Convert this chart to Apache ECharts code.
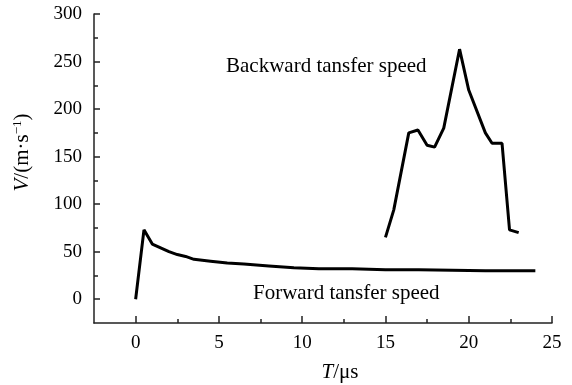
<!DOCTYPE html>
<html>
<head>
<meta charset="utf-8">
<script src="https://cdn.jsdelivr.net/npm/echarts@6/dist/echarts.min.js"></script>
<style>
html,body{margin:0;padding:0;background:#fff;}
#chart{width:572px;height:385px;}
</style>
</head>
<body>
<div id="chart"></div>
<script>
// forward transfer speed
var forwardT = [0, 0.5, 1.0, 1.5, 2.0, 2.5, 3.0, 3.5, 4.5, 5.5, 6.5, 8, 9.5, 11, 13, 15, 17, 19, 21, 24];
var forwardV = [0, 73, 58, 54, 50, 47, 45, 42, 40, 38, 37, 35, 33, 32, 32, 31, 31, 30.5, 30, 30];
// backward transfer speed
var backwardT = [15.0, 15.5, 16.4, 16.95, 17.5, 17.95, 18.5, 19.45, 20.0, 21.0, 21.4, 22.0, 22.45, 23.0];
var backwardV = [65, 94, 175, 178, 162, 160, 180, 263, 220, 175, 164, 164, 73, 70];

var xLabels = [0, 5, 10, 15, 20, 25];
var xMinor = [2.5, 7.5, 12.5, 17.5, 22.5];
var yLabels = [0, 50, 100, 150, 200, 250, 300];
var yMinor = [25, 75, 125, 175, 225, 275];

function pairs(xs, ys) {
    return xs.map(function (x, i) { return [x, ys[i]]; });
}

var font = 'Liberation Serif';
var axisColor = '#222';

var chart = echarts.init(document.getElementById('chart'));
var option = {
    backgroundColor: '#fff',
    animation: false,
    grid: {left: 94, right: 20, top: 14, bottom: 62, containLabel: false, outerBoundsMode: 'none'},
    xAxis: [
        {
            type: 'value', min: -2.5, max: 25,
            name: '{i|T}/μs',
            nameLocation: 'middle', nameGap: 39,
            nameTextStyle: {
                fontFamily: font, fontSize: 21, color: '#000', padding: [0, 0, 0, 34],
                rich: {i: {fontFamily: font, fontSize: 21, fontStyle: 'italic', color: '#000'}}
            },
            axisLine: {onZero: false, lineStyle: {color: axisColor, width: 1.5}},
            axisTick: {inside: true, length: 7, customValues: xLabels, lineStyle: {color: axisColor, width: 1.5}},
            axisLabel: {customValues: xLabels, fontFamily: font, fontSize: 19, color: '#000', margin: 11},
            splitLine: {show: false}
        },
        {
            type: 'value', min: -2.5, max: 25, position: 'bottom',
            axisLine: {show: false, onZero: false},
            axisTick: {inside: true, length: 4, customValues: xMinor, lineStyle: {color: axisColor, width: 1.5}},
            axisLabel: {show: false},
            splitLine: {show: false}
        }
    ],
    yAxis: [
        {
            type: 'value', min: -25, max: 300,
            name: '{i|V}/(m·s{sup|−1})',
            nameLocation: 'middle', nameGap: 61, nameRotate: 90,
            nameTextStyle: {
                fontFamily: font, fontSize: 21, color: '#000', padding: [0, 0, 0, 32],
                rich: {
                    i: {fontFamily: font, fontSize: 21, fontStyle: 'italic', color: '#000'},
                    sup: {fontFamily: font, fontSize: 13, color: '#000', verticalAlign: 'top', padding: [0, 0, 9, 0]}
                }
            },
            axisLine: {show: true, onZero: false, lineStyle: {color: axisColor, width: 1.5}},
            axisTick: {show: true, inside: true, length: 6, customValues: yLabels, lineStyle: {color: axisColor, width: 1.5}},
            axisLabel: {customValues: yLabels, fontFamily: font, fontSize: 19, color: '#000', margin: 12},
            splitLine: {show: false}
        },
        {
            type: 'value', min: -25, max: 300, position: 'left',
            axisLine: {show: false, onZero: false},
            axisTick: {show: true, inside: true, length: 4, customValues: yMinor, lineStyle: {color: axisColor, width: 1.5}},
            axisLabel: {show: false},
            splitLine: {show: false}
        }
    ],
    series: [
        {
            name: 'Forward tansfer speed', type: 'line',
            data: pairs(forwardT, forwardV),
            symbol: 'none',
            lineStyle: {color: '#000', width: 3}
        },
        {
            name: 'Backward tansfer speed', type: 'line',
            data: pairs(backwardT, backwardV),
            symbol: 'none',
            lineStyle: {color: '#000', width: 3}
        }
    ],
    graphic: [
        {type: 'text', left: 226, top: 56, style: {text: 'Backward tansfer speed', fontFamily: font, fontSize: 21, fill: '#000'}},
        {type: 'text', left: 253, top: 283, style: {text: 'Forward tansfer speed', fontFamily: font, fontSize: 21, fill: '#000'}}
    ]
};
chart.setOption(option);
</script>
</body>
</html>
